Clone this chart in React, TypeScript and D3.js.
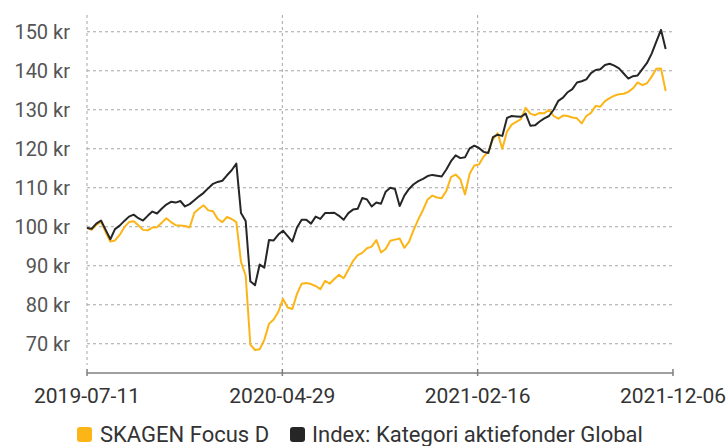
import * as d3 from 'd3';

// weekly closes, starting 2019-07-11
const startDate = '2019-07-11';
const endDate = '2021-12-06';

const skagenFocus = [
  99.7, 99.2, 100.5, 101.3, 98.6, 96.2, 96.5, 97.9, 99.9, 101.2,
  101.4, 100.4, 99.2, 99.1, 99.8, 99.9, 101.0, 102.2, 101.2, 100.4,
  100.3, 100.2, 99.8, 103.6, 104.6, 105.5, 104.2, 104.0, 102.0, 101.2,
  102.5, 102.0, 101.2, 91.0, 87.5, 69.8, 68.4, 68.6, 71.0, 75.1,
  76.2, 78.2, 81.5, 79.3, 78.9, 82.8, 85.4, 85.6, 85.3, 84.8,
  84.0, 86.1, 85.4, 86.6, 87.7, 86.8, 89.0, 91.2, 92.7, 93.3,
  94.5, 94.9, 96.6, 93.4, 94.3, 96.4, 96.7, 97.0, 94.6, 96.1,
  99.2, 101.9, 104.3, 107.0, 108.0, 107.5, 107.3, 109.2, 112.7, 113.4,
  112.2, 108.3, 113.6, 115.7, 116.0, 118.0, 119.3, 122.5, 124.0, 120.0,
  124.4, 126.2, 126.9, 127.6, 130.5, 129.0, 128.6, 129.2, 129.1, 130.0,
  128.4, 127.7, 128.5, 128.4, 128.0, 127.8, 126.5, 128.4, 129.2, 131.0,
  130.8, 132.2, 133.0, 133.6, 134.0, 134.1, 134.6, 135.5, 137.0, 136.3,
  136.8, 138.5, 140.5, 140.6, 134.8,
];

const categoryIndex = [
  99.7, 99.5, 100.8, 101.6, 99.2, 96.8, 99.4, 100.3, 101.5, 102.6,
  103.1, 102.2, 101.6, 102.8, 103.9, 103.4, 104.6, 105.7, 106.4, 106.2,
  106.6, 105.2, 105.8, 106.8, 107.8, 108.7, 109.9, 111.0, 111.5, 111.8,
  113.2, 114.5, 116.2, 103.5, 101.5, 86.0, 85.0, 90.3, 89.5, 96.6,
  96.5, 98.0, 99.0, 97.6, 96.2, 99.8, 101.8, 101.8, 100.8, 102.6,
  102.0, 103.5, 103.5, 103.6, 102.8, 101.8, 103.5, 104.4, 104.6, 107.4,
  107.0, 105.2, 106.2, 105.9, 109.0, 110.0, 109.7, 105.3, 108.0, 109.7,
  110.9, 111.7, 112.3, 113.0, 113.3, 113.1, 112.9, 114.7, 116.8, 118.3,
  117.6, 117.8, 120.1, 120.8, 120.2, 119.2, 118.9, 123.0, 123.6, 123.3,
  127.9, 128.4, 128.3, 128.2, 129.0, 125.9, 126.0, 127.0, 127.8, 128.4,
  130.0, 132.3, 133.1, 134.5, 135.3, 137.0, 137.3, 137.8, 139.4, 140.2,
  140.4, 141.5, 141.8, 141.3, 140.6, 139.3, 138.0, 138.6, 138.8, 140.4,
  142.0, 144.4, 147.5, 150.5, 145.6,
];

const yTicks = [70, 80, 90, 100, 110, 120, 130, 140, 150];
const xTickLabels = ['2019-07-11', '2020-04-29', '2021-02-16', '2021-12-06'];

const seriesNames = ['SKAGEN Focus D', 'Index: Kategori aktiefonder Global'];
const seriesColors = ['#fbb517', '#262626'];

const W = 727;
const H = 446;
const left = 87;
const right = 673;
const top = 15;
const bottom = 373;

export default function App() {
  const parse = d3.timeParse('%Y-%m-%d');
  const t0 = parse(startDate)!;
  const t1 = parse(endDate)!;

  const x = d3.scaleTime().domain([t0, t1]).range([left, right]);
  const y = d3.scaleLinear().domain([62.5, 154.3]).range([bottom, top]);

  const dates = skagenFocus.map((_, i) => d3.timeDay.offset(t0, i * 7));

  const line = d3
    .line<number>()
    .x((_, i) => x(dates[i]))
    .y((d) => y(d));

  const tickDates = xTickLabels.map((s) => parse(s)!);
  const font = 'Roboto, "Noto Sans", sans-serif';

  return (
    <svg
      width={W}
      height={H}
      viewBox={`0 0 ${W} ${H}`}
      style={{ position: 'absolute', left: 0, top: 0, background: '#fff' }}
    >
      {/* horizontal grid */}
      {yTicks.map((v) => (
        <line
          key={`h${v}`}
          x1={left}
          x2={right}
          y1={y(v)}
          y2={y(v)}
          stroke="#a6a6a6"
          strokeWidth={1}
          strokeDasharray="3,3"
        />
      ))}
      {/* vertical grid */}
      {tickDates.slice(0, 3).map((d, i) => (
        <line
          key={`v${i}`}
          x1={x(d)}
          x2={x(d)}
          y1={top}
          y2={bottom - 8}
          stroke="#a6a6a6"
          strokeWidth={1}
          strokeDasharray="3,3"
        />
      ))}

      {/* y labels */}
      {yTicks.map((v) => (
        <text
          key={`yl${v}`}
          x={70}
          y={y(v)}
          dy="0.35em"
          textAnchor="end"
          fontFamily={font}
          fontSize={20}
          fill="#555"
        >
          {v} kr
        </text>
      ))}

      {/* x axis */}
      <line x1={left} x2={right} y1={bottom} y2={bottom} stroke="#7f7f7f" strokeWidth={1.5} />
      {tickDates.map((d, i) => (
        <g key={`xt${i}`}>
          <line x1={x(d)} x2={x(d)} y1={bottom - 4} y2={bottom + 3} stroke="#7f7f7f" strokeWidth={1.5} />
          <text
            x={x(d)}
            y={403}
            textAnchor="middle"
            fontFamily={font}
            fontSize={21}
            fill="#333"
          >
            {xTickLabels[i]}
          </text>
        </g>
      ))}

      {/* series */}
      <path
        d={line(skagenFocus) ?? ''}
        fill="none"
        stroke={seriesColors[0]}
        strokeWidth={2}
        strokeLinejoin="round"
      />
      <path
        d={line(categoryIndex) ?? ''}
        fill="none"
        stroke={seriesColors[1]}
        strokeWidth={2}
        strokeLinejoin="round"
      />

      {/* legend */}
      <rect x={77} y={427} width={15} height={15} rx={3} fill={seriesColors[0]} />
      <text x={100} y={442} fontFamily={font} fontSize={22} fill="#333">
        {seriesNames[0]}
      </text>
      <rect x={290} y={427} width={15} height={15} rx={3} fill={seriesColors[1]} />
      <text x={312} y={442} fontFamily={font} fontSize={22} fill="#333">
        {seriesNames[1]}
      </text>
    </svg>
  );
}
